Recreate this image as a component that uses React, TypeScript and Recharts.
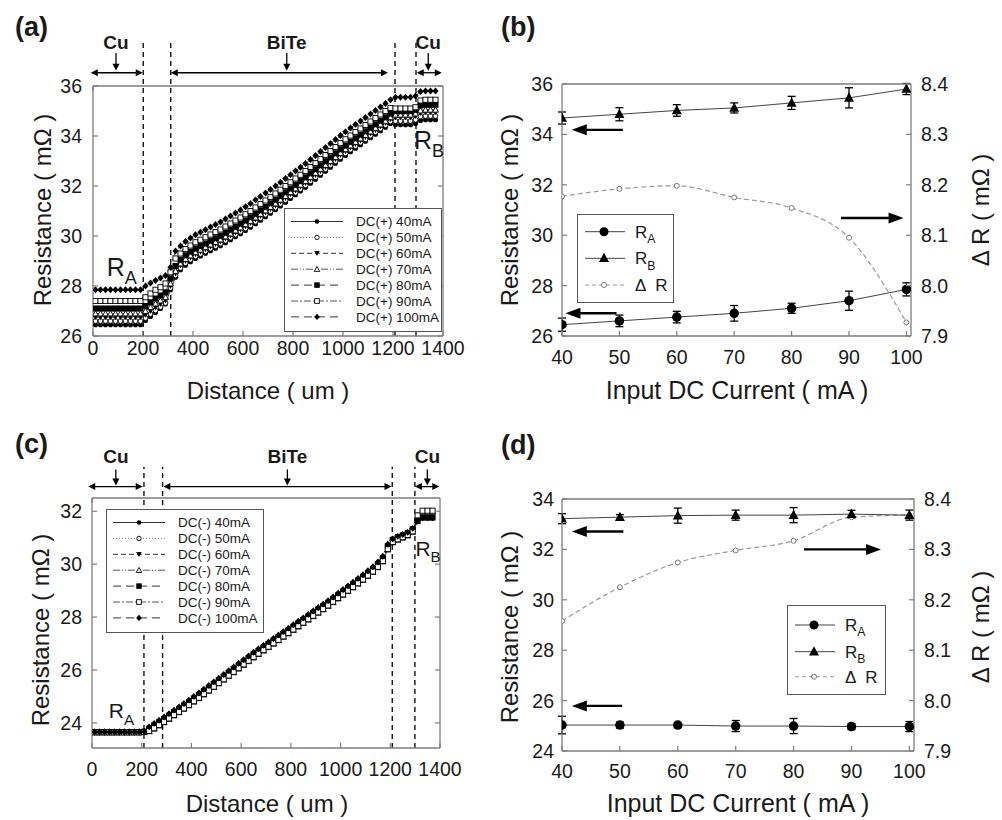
import React from 'react';
import { LineChart, Line, XAxis, YAxis, ReferenceLine, ReferenceDot, Legend, ErrorBar } from 'recharts';

const FONT = '"Liberation Sans", Arial, Helvetica, sans-serif';
const INK = '#1a1a1a';
const FRAME = '#7d7d7d';

// ---------------- data : panels (a) and (c) ----------------
const distance = [
  10, 30, 50, 70, 90, 110, 130, 150, 170, 190,
  210, 230, 250, 270, 290, 310, 330, 350, 370, 390,
  410, 430, 450, 470, 490, 510, 530, 550, 570, 590,
  610, 630, 650, 670, 690, 710, 730, 750, 770, 790,
  810, 830, 850, 870, 890, 910, 930, 950, 970, 990,
  1010, 1030, 1050, 1070, 1090, 1110, 1130, 1150, 1170, 1190,
  1210, 1230, 1250, 1270, 1290, 1310, 1330, 1350, 1370,
];
const currentLabels = ['40mA', '50mA', '60mA', '70mA', '80mA', '90mA', '100mA'];

const pos40 = [
  26.45, 26.45, 26.45, 26.45, 26.45, 26.45, 26.45, 26.45, 26.45, 26.45,
  26.62, 26.78, 26.94, 27.10, 27.28, 27.85, 28.35, 28.65, 28.83, 28.97,
  29.10, 29.20, 29.30, 29.41, 29.51, 29.61, 29.73, 29.85, 29.97, 30.09,
  30.22, 30.35, 30.49, 30.63, 30.77, 30.91, 31.05, 31.20, 31.35, 31.50,
  31.65, 31.80, 31.95, 32.11, 32.27, 32.43, 32.59, 32.75, 32.91, 33.07,
  33.22, 33.37, 33.51, 33.65, 33.79, 33.93, 34.07, 34.21, 34.35, 34.50,
  34.45, 34.45, 34.45, 34.45, 34.50, 34.62, 34.65, 34.65, 34.65,
];
const pos50 = [
  26.60, 26.60, 26.60, 26.60, 26.60, 26.60, 26.60, 26.60, 26.60, 26.60,
  26.72, 26.88, 27.02, 27.16, 27.32, 27.92, 28.42, 28.72, 28.91, 29.05,
  29.18, 29.28, 29.38, 29.49, 29.59, 29.69, 29.81, 29.93, 30.05, 30.17,
  30.30, 30.43, 30.57, 30.71, 30.85, 30.99, 31.13, 31.28, 31.43, 31.58,
  31.73, 31.88, 32.03, 32.19, 32.35, 32.51, 32.67, 32.83, 32.99, 33.15,
  33.30, 33.45, 33.59, 33.73, 33.87, 34.01, 34.15, 34.29, 34.43, 34.58,
  34.60, 34.60, 34.60, 34.60, 34.65, 34.78, 34.80, 34.80, 34.80,
];
const pos60 = [
  26.75, 26.75, 26.75, 26.75, 26.75, 26.75, 26.75, 26.75, 26.75, 26.75,
  26.85, 27.00, 27.15, 27.28, 27.42, 28.00, 28.50, 28.82, 29.00, 29.14,
  29.27, 29.37, 29.47, 29.58, 29.68, 29.78, 29.90, 30.02, 30.14, 30.26,
  30.39, 30.52, 30.66, 30.80, 30.94, 31.08, 31.22, 31.37, 31.52, 31.67,
  31.82, 31.97, 32.12, 32.28, 32.44, 32.60, 32.76, 32.92, 33.08, 33.24,
  33.39, 33.54, 33.68, 33.82, 33.96, 34.10, 34.24, 34.38, 34.52, 34.67,
  34.75, 34.75, 34.75, 34.75, 34.80, 34.92, 34.95, 34.95, 34.95,
];
const pos70 = [
  26.90, 26.90, 26.90, 26.90, 26.90, 26.90, 26.90, 26.90, 26.90, 26.90,
  27.00, 27.15, 27.30, 27.42, 27.55, 28.10, 28.60, 28.90, 29.08, 29.22,
  29.35, 29.45, 29.55, 29.66, 29.76, 29.86, 29.98, 30.10, 30.22, 30.34,
  30.47, 30.60, 30.74, 30.88, 31.02, 31.16, 31.30, 31.45, 31.60, 31.75,
  31.90, 32.05, 32.20, 32.36, 32.52, 32.68, 32.84, 33.00, 33.16, 33.32,
  33.47, 33.62, 33.76, 33.90, 34.04, 34.18, 34.32, 34.46, 34.60, 34.75,
  34.85, 34.85, 34.85, 34.85, 34.90, 35.02, 35.05, 35.05, 35.05,
];
const pos80 = [
  27.10, 27.10, 27.10, 27.10, 27.10, 27.10, 27.10, 27.10, 27.10, 27.10,
  27.20, 27.35, 27.50, 27.62, 27.75, 28.30, 28.80, 29.05, 29.23, 29.37,
  29.50, 29.60, 29.70, 29.81, 29.91, 30.01, 30.13, 30.25, 30.37, 30.49,
  30.62, 30.75, 30.89, 31.03, 31.17, 31.31, 31.45, 31.60, 31.75, 31.90,
  32.05, 32.20, 32.35, 32.51, 32.67, 32.83, 32.99, 33.15, 33.31, 33.47,
  33.62, 33.77, 33.91, 34.05, 34.19, 34.33, 34.47, 34.61, 34.75, 34.90,
  35.00, 35.00, 35.00, 35.00, 35.05, 35.22, 35.25, 35.25, 35.25,
];
const pos90 = [
  27.40, 27.40, 27.40, 27.40, 27.40, 27.40, 27.40, 27.40, 27.40, 27.40,
  27.55, 27.70, 27.85, 27.95, 28.10, 28.55, 29.10, 29.30, 29.48, 29.62,
  29.75, 29.85, 29.95, 30.06, 30.16, 30.26, 30.38, 30.50, 30.62, 30.74,
  30.87, 31.00, 31.14, 31.28, 31.42, 31.56, 31.70, 31.85, 32.00, 32.15,
  32.30, 32.45, 32.60, 32.76, 32.92, 33.08, 33.24, 33.40, 33.56, 33.72,
  33.87, 34.02, 34.16, 34.30, 34.44, 34.58, 34.72, 34.86, 35.00, 35.12,
  35.10, 35.10, 35.10, 35.10, 35.15, 35.42, 35.45, 35.45, 35.45,
];
const pos100 = [
  27.85, 27.85, 27.85, 27.85, 27.85, 27.85, 27.85, 27.85, 27.85, 27.85,
  28.00, 28.12, 28.22, 28.32, 28.42, 28.75, 29.40, 29.60, 29.78, 29.92,
  30.05, 30.15, 30.25, 30.36, 30.46, 30.56, 30.68, 30.80, 30.92, 31.04,
  31.17, 31.30, 31.44, 31.58, 31.72, 31.86, 32.00, 32.15, 32.30, 32.45,
  32.60, 32.75, 32.90, 33.06, 33.22, 33.38, 33.54, 33.70, 33.86, 34.02,
  34.17, 34.32, 34.46, 34.60, 34.74, 34.88, 35.02, 35.16, 35.30, 35.45,
  35.55, 35.55, 35.55, 35.55, 35.60, 35.78, 35.80, 35.80, 35.80,
];

const neg40 = [
  23.63, 23.63, 23.63, 23.63, 23.63, 23.63, 23.63, 23.63, 23.63, 23.63,
  23.64, 23.72, 23.83, 23.95, 24.07, 24.20, 24.33, 24.45, 24.58, 24.71,
  24.85, 24.98, 25.12, 25.26, 25.40, 25.54, 25.68, 25.82, 25.96, 26.10,
  26.24, 26.38, 26.52, 26.65, 26.78, 26.91, 27.04, 27.17, 27.30, 27.43,
  27.56, 27.69, 27.82, 27.95, 28.08, 28.21, 28.34, 28.47, 28.61, 28.75,
  28.89, 29.03, 29.17, 29.31, 29.45, 29.60, 29.75, 29.93, 30.15, 30.60,
  30.85, 30.95, 31.02, 31.10, 31.25, 31.60, 31.75, 31.75, 31.75,
];
const neg50 = [
  23.67, 23.67, 23.67, 23.67, 23.67, 23.67, 23.67, 23.67, 23.67, 23.67,
  23.68, 23.80, 23.93, 24.05, 24.17, 24.30, 24.43, 24.55, 24.68, 24.81,
  24.95, 25.08, 25.22, 25.36, 25.50, 25.64, 25.78, 25.92, 26.06, 26.20,
  26.34, 26.48, 26.62, 26.75, 26.88, 27.01, 27.14, 27.27, 27.40, 27.53,
  27.66, 27.79, 27.92, 28.05, 28.18, 28.31, 28.44, 28.57, 28.71, 28.85,
  28.99, 29.13, 29.27, 29.41, 29.55, 29.70, 29.85, 30.03, 30.25, 30.70,
  30.90, 31.00, 31.07, 31.15, 31.30, 31.85, 32.00, 32.00, 32.00,
];
const neg60 = [
  23.64, 23.64, 23.64, 23.64, 23.64, 23.64, 23.64, 23.64, 23.64, 23.64,
  23.65, 23.75, 23.86, 23.98, 24.10, 24.23, 24.36, 24.48, 24.61, 24.74,
  24.88, 25.01, 25.15, 25.29, 25.43, 25.57, 25.71, 25.85, 25.99, 26.13,
  26.27, 26.41, 26.55, 26.68, 26.81, 26.94, 27.07, 27.20, 27.33, 27.46,
  27.59, 27.72, 27.85, 27.98, 28.11, 28.24, 28.37, 28.50, 28.64, 28.78,
  28.92, 29.06, 29.20, 29.34, 29.48, 29.63, 29.78, 29.96, 30.18, 30.63,
  30.88, 30.98, 31.05, 31.13, 31.28, 31.62, 31.78, 31.78, 31.78,
];
const neg70 = [
  23.66, 23.66, 23.66, 23.66, 23.66, 23.66, 23.66, 23.66, 23.66, 23.66,
  23.66, 23.68, 23.78, 23.90, 24.02, 24.15, 24.28, 24.40, 24.53, 24.66,
  24.80, 24.93, 25.07, 25.21, 25.35, 25.49, 25.63, 25.77, 25.91, 26.05,
  26.19, 26.33, 26.47, 26.60, 26.73, 26.86, 26.99, 27.12, 27.25, 27.38,
  27.51, 27.64, 27.77, 27.90, 28.03, 28.16, 28.29, 28.42, 28.56, 28.70,
  28.84, 28.98, 29.12, 29.26, 29.40, 29.55, 29.70, 29.88, 30.10, 30.55,
  30.82, 30.92, 31.00, 31.08, 31.22, 31.82, 31.98, 31.98, 31.98,
];
const neg80 = [
  23.65, 23.65, 23.65, 23.65, 23.65, 23.65, 23.65, 23.65, 23.65, 23.65,
  23.67, 23.78, 23.90, 24.02, 24.14, 24.27, 24.40, 24.52, 24.65, 24.78,
  24.92, 25.05, 25.19, 25.33, 25.47, 25.61, 25.75, 25.89, 26.03, 26.17,
  26.31, 26.45, 26.59, 26.72, 26.85, 26.98, 27.11, 27.24, 27.37, 27.50,
  27.63, 27.76, 27.89, 28.02, 28.15, 28.28, 28.41, 28.54, 28.68, 28.82,
  28.96, 29.10, 29.24, 29.38, 29.52, 29.67, 29.82, 30.00, 30.22, 30.68,
  30.92, 31.02, 31.09, 31.17, 31.32, 31.63, 31.76, 31.76, 31.76,
];
const neg90 = [
  23.64, 23.64, 23.64, 23.64, 23.64, 23.64, 23.64, 23.64, 23.64, 23.64,
  23.65, 23.70, 23.80, 23.92, 24.04, 24.17, 24.30, 24.42, 24.55, 24.68,
  24.82, 24.95, 25.09, 25.23, 25.37, 25.51, 25.65, 25.79, 25.93, 26.07,
  26.21, 26.35, 26.49, 26.62, 26.75, 26.88, 27.01, 27.14, 27.27, 27.40,
  27.53, 27.66, 27.79, 27.92, 28.05, 28.18, 28.31, 28.44, 28.58, 28.72,
  28.86, 29.00, 29.14, 29.28, 29.42, 29.57, 29.72, 29.90, 30.12, 30.57,
  30.84, 30.94, 31.02, 31.10, 31.24, 31.84, 32.02, 32.02, 32.02,
];
const neg100 = [
  23.65, 23.65, 23.65, 23.65, 23.65, 23.65, 23.65, 23.65, 23.65, 23.65,
  23.66, 23.85, 23.98, 24.10, 24.22, 24.35, 24.48, 24.60, 24.73, 24.86,
  25.00, 25.13, 25.27, 25.41, 25.55, 25.69, 25.83, 25.97, 26.11, 26.25,
  26.39, 26.53, 26.67, 26.80, 26.93, 27.06, 27.19, 27.32, 27.45, 27.58,
  27.71, 27.84, 27.97, 28.10, 28.23, 28.36, 28.49, 28.62, 28.76, 28.90,
  29.04, 29.18, 29.32, 29.46, 29.60, 29.75, 29.90, 30.08, 30.30, 30.75,
  30.95, 31.05, 31.12, 31.20, 31.35, 31.65, 31.75, 31.75, 31.75,
];

// ---------------- data : panels (b) and (d) ----------------
const currents = [40, 50, 60, 70, 80, 90, 100];
const bRA = [26.45, 26.6, 26.75, 26.9, 27.1, 27.4, 27.85];
const bRAerr = [0.26, 0.23, 0.23, 0.31, 0.2, 0.38, 0.26];
const bRB = [34.65, 34.8, 34.95, 35.05, 35.25, 35.45, 35.8];
const bRBerr = [0.24, 0.26, 0.23, 0.2, 0.26, 0.4, 0.22];
const bDR = [8.177, 8.192, 8.198, 8.175, 8.154, 8.095, 7.927];

const dRA = [25.03, 25.03, 25.03, 24.99, 24.99, 24.97, 24.97];
const dRAerr = [0.35, 0.12, 0.1, 0.22, 0.3, 0.12, 0.2];
const dRB = [33.22, 33.28, 33.34, 33.36, 33.36, 33.4, 33.36];
const dRBerr = [0.2, 0.1, 0.3, 0.2, 0.3, 0.15, 0.2];
const dDR = [8.158, 8.225, 8.274, 8.298, 8.317, 8.364, 8.368];

// ---------------- ticks ----------------
const distTicks = [0, 200, 400, 600, 800, 1000, 1200, 1400];
const resTicksA = [26, 28, 30, 32, 34, 36];
const resTicksC = [24, 26, 28, 30, 32];
const currTicks = [40, 50, 60, 70, 80, 90, 100];
const resTicksB = [26, 28, 30, 32, 34, 36];
const resTicksD = [24, 26, 28, 30, 32, 34];
const dRTicks = [7.9, 8.0, 8.1, 8.2, 8.3, 8.4];

// ---------------- assembled tables ----------------
const posSeries = [pos40, pos50, pos60, pos70, pos80, pos90, pos100];
const negSeries = [neg40, neg50, neg60, neg70, neg80, neg90, neg100];
const dataA = distance.map((d, i) => {
  const row: any = { d };
  posSeries.forEach((s, k) => { row['s' + k] = s[i]; });
  return row;
});
const dataC = distance.map((d, i) => {
  const row: any = { d };
  negSeries.forEach((s, k) => { row['s' + k] = s[i]; });
  return row;
});
const dataB = currents.map((c, i) => ({ c, ra: bRA[i], raErr: bRAerr[i], rb: bRB[i], rbErr: bRBerr[i], dr: bDR[i] }));
const dataD = currents.map((c, i) => ({ c, ra: dRA[i], raErr: dRAerr[i], rb: dRB[i], rbErr: dRBerr[i], dr: dDR[i] }));

// ---------------- styles ----------------
const seriesStyle = [
  { dash: undefined as any, mark: 'dot', line: '#333' },
  { dash: '1 2', mark: 'ring', line: '#888' },
  { dash: '5 3', mark: 'tdown', line: '#333' },
  { dash: '7 2 1 2 1 2', mark: 'tup', line: '#555' },
  { dash: '8 5', mark: 'sq', line: '#333' },
  { dash: '7 2 2 2', mark: 'sqo', line: '#555' },
  { dash: '8 5', mark: 'dia', line: '#333' },
];

function Marker({ cx, cy, kind, s = 6 }: any) {
  if (cx == null || cy == null || isNaN(cx) || isNaN(cy)) return <g />;
  const h = s / 2;
  switch (kind) {
    case 'dot':
      return <circle cx={cx} cy={cy} r={h * 0.85} fill="#000" />;
    case 'ring':
      return <circle cx={cx} cy={cy} r={h * 0.8} fill="#fff" stroke="#000" strokeWidth={0.9} />;
    case 'tdown':
      return <polygon points={`${cx - h},${cy - h * 0.8} ${cx + h},${cy - h * 0.8} ${cx},${cy + h}`} fill="#000" />;
    case 'tup':
      return <polygon points={`${cx - h},${cy + h * 0.8} ${cx + h},${cy + h * 0.8} ${cx},${cy - h}`} fill="#fff" stroke="#000" strokeWidth={0.9} />;
    case 'sq':
      return <rect x={cx - h} y={cy - h} width={s} height={s} fill="#000" />;
    case 'sqo':
      return <rect x={cx - h * 0.85} y={cy - h * 0.85} width={s * 0.85} height={s * 0.85} fill="#fff" stroke="#000" strokeWidth={0.9} />;
    case 'dia':
      return <polygon points={`${cx},${cy - h * 1.15} ${cx + h * 1.05},${cy} ${cx},${cy + h * 1.15} ${cx - h * 1.05},${cy}`} fill="#000" />;
    case 'bigdot':
      return <circle cx={cx} cy={cy} r={h} fill="#000" />;
    case 'bigtri':
      return <polygon points={`${cx},${cy - s * 0.55} ${cx + s * 0.5},${cy + s * 0.38} ${cx - s * 0.5},${cy + s * 0.38}`} fill="#000" />;
    case 'gring':
      return <circle cx={cx} cy={cy} r={h} fill="#fff" stroke="#777" strokeWidth={1} />;
    default:
      return <g />;
  }
}

const TICK_FS = 19.5;

const bottomTick = (gap: number) => (p: any) => (
  <g>
    <line x1={p.x} y1={p.y} x2={p.x} y2={p.y - 5} stroke={FRAME} strokeWidth={1.2} />
    <text x={p.x} y={p.y + gap} dy="0.36em" textAnchor="middle" fontSize={TICK_FS} fontFamily={FONT} fill={INK}>
      {p.payload.value}
    </text>
  </g>
);
const topTick = (p: any) => <line x1={p.x} y1={p.y} x2={p.x} y2={p.y + 5} stroke={FRAME} strokeWidth={1.2} />;
const leftTick = (gap: number) => (p: any) => (
  <g>
    <line x1={p.x} y1={p.y} x2={p.x + 5} y2={p.y} stroke={FRAME} strokeWidth={1.2} />
    <text x={p.x - gap} y={p.y} dy="0.36em" textAnchor="end" fontSize={TICK_FS} fontFamily={FONT} fill={INK}>
      {p.payload.value}
    </text>
  </g>
);
const rightTickPlain = (p: any) => <line x1={p.x} y1={p.y} x2={p.x - 5} y2={p.y} stroke={FRAME} strokeWidth={1.2} />;
const rightTickLabel = (gap: number) => (p: any) => (
  <g>
    <line x1={p.x} y1={p.y} x2={p.x - 5} y2={p.y} stroke={FRAME} strokeWidth={1.2} />
    <text x={p.x + gap} y={p.y} dy="0.36em" textAnchor="start" fontSize={TICK_FS} fontFamily={FONT} fill={INK}>
      {Number(p.payload.value).toFixed(1)}
    </text>
  </g>
);

const arrowShape = (mode: 'end' | 'both', len: number, half: number, sw: number) => (p: any) => {
  const { x1, y1, x2, y2 } = p;
  if ([x1, y1, x2, y2].some((v) => v == null || isNaN(v))) return <g />;
  const dx = x2 - x1;
  const dy = y2 - y1;
  const L = Math.hypot(dx, dy) || 1;
  const ux = dx / L;
  const uy = dy / L;
  const head = (tx: number, ty: number, vx: number, vy: number) => {
    const bx = tx - vx * len;
    const by = ty - vy * len;
    return `${tx},${ty} ${bx - vy * half},${by + vx * half} ${bx + vy * half},${by - vx * half}`;
  };
  const sx = mode === 'both' ? x1 + ux * len * 0.7 : x1;
  const sy = mode === 'both' ? y1 + uy * len * 0.7 : y1;
  const ex = x2 - ux * len * 0.7;
  const ey = y2 - uy * len * 0.7;
  return (
    <g>
      <line x1={sx} y1={sy} x2={ex} y2={ey} stroke="#000" strokeWidth={sw} />
      {mode === 'both' && <polygon points={head(x1, y1, -ux, -uy)} fill="#000" />}
      <polygon points={head(x2, y2, ux, uy)} fill="#000" />
    </g>
  );
};

const textShape = (content: React.ReactNode, fs: number, bold: boolean) => (p: any) => (
  <text x={p.cx} y={p.cy} dy="0.36em" textAnchor="middle" fontSize={fs} fontWeight={bold ? 700 : 400} fontFamily={FONT} fill={INK}>
    {content}
  </text>
);
const subLabel = (main: string, sub: string, fs: number) => (
  <>
    {main}
    <tspan fontSize={fs * 0.72} dy={fs * 0.3}>{sub}</tspan>
  </>
);

// ---------------- annotations ----------------
const regionLinesA = [201, 311, 1208, 1292];
const spansA = [[-9, 199], [311, 1180], [1295, 1395]];
const pointersA = [92, 775, 1341];
const tagsA = [{ x: 92, t: 'Cu' }, { x: 775, t: 'BiTe' }, { x: 1341, t: 'Cu' }];

const regionLinesC = [209, 284, 1208, 1299];
const spansC = [[-15, 204], [287, 1205], [1299, 1397]];
const pointersC = [96, 786, 1349];
const tagsC = [{ x: 96, t: 'Cu' }, { x: 786, t: 'BiTe' }, { x: 1349, t: 'Cu' }];

// ---------------- legends ----------------
function DenseLegend({ prefix }: { prefix: string }) {
  return (
    <svg width={158} height={124} style={{ display: 'block' }}>
      <rect x={0.5} y={0.5} width={157} height={123} fill="#fff" stroke="#555" strokeWidth={1} />
      {currentLabels.map((lab, i) => {
        const y = 13.5 + i * 15.9;
        const st = seriesStyle[i];
        return (
          <g key={lab}>
            <line x1={7} y1={y} x2={59} y2={y} stroke={st.line} strokeWidth={1} strokeDasharray={st.dash} />
            <Marker cx={33} cy={y} kind={st.mark} s={5.5} />
            <text x={72} y={y} dy="0.36em" fontSize={13.5} fontFamily={FONT} fill={INK}>
              {prefix + ' ' + lab}
            </text>
          </g>
        );
      })}
    </svg>
  );
}

function TrioLegend({ w, h, rowY }: { w: number; h: number; rowY: number[] }) {
  const fs = 17;
  return (
    <svg width={w} height={h} style={{ display: 'block' }}>
      <rect x={0.5} y={0.5} width={w - 1} height={h - 1} fill="#fff" stroke="#555" strokeWidth={1} />
      <line x1={8} y1={rowY[0]} x2={48} y2={rowY[0]} stroke="#444" strokeWidth={1} />
      <Marker cx={27} cy={rowY[0]} kind="bigdot" s={9} />
      <text x={58} y={rowY[0]} dy="0.36em" fontSize={fs} fontFamily={FONT} fill={INK}>{subLabel('R', 'A', fs)}</text>
      <line x1={8} y1={rowY[1]} x2={48} y2={rowY[1]} stroke="#444" strokeWidth={1} />
      <Marker cx={27} cy={rowY[1]} kind="bigtri" s={10} />
      <text x={58} y={rowY[1]} dy="0.36em" fontSize={fs} fontFamily={FONT} fill={INK}>{subLabel('R', 'B', fs)}</text>
      <line x1={8} y1={rowY[2]} x2={48} y2={rowY[2]} stroke="#999" strokeWidth={1.1} strokeDasharray="4 3" />
      <Marker cx={27} cy={rowY[2]} kind="gring" s={5} />
      <text x={58} y={rowY[2]} dy="0.36em" fontSize={fs} fontFamily={FONT} fill={INK}>
        Δ<tspan dx={9}>R</tspan>
      </text>
    </svg>
  );
}

// ---------------- panels ----------------
function DensePanel({ data, yDomain, yTicks, regions, regionTop, spanY, spans, pointers, pointerFrom, pointerTo, tags, tagY, tagFont,
  ra, rb, rFont, legendPos, prefix, margin, leftW, bottomH, xGap, yGap }: any) {
  return (
    <LineChart width={500} height={410} data={data} margin={margin}>
      <XAxis dataKey="d" type="number" domain={[0, 1400]} ticks={distTicks} allowDataOverflow interval={0}
        height={bottomH} tickSize={0} tickMargin={0} tickLine={false} axisLine={{ stroke: FRAME, strokeWidth: 1.3 }} tick={bottomTick(xGap)} />
      <XAxis xAxisId="top" orientation="top" type="number" domain={[0, 1400]} ticks={distTicks} allowDataOverflow interval={0}
        height={30} tickSize={0} tickMargin={0} tickLine={false} axisLine={{ stroke: FRAME, strokeWidth: 1.3 }} tick={topTick} />
      <YAxis type="number" domain={yDomain} ticks={yTicks} allowDataOverflow interval={0} width={leftW}
        tickSize={0} tickMargin={0} tickLine={false} axisLine={{ stroke: FRAME, strokeWidth: 1.3 }} tick={leftTick(yGap)} />
      <YAxis yAxisId="fr" orientation="right" type="number" domain={yDomain} ticks={yTicks} allowDataOverflow interval={0} width={30}
        tickSize={0} tickMargin={0} tickLine={false} axisLine={{ stroke: FRAME, strokeWidth: 1.3 }} tick={rightTickPlain} />
      {currentLabels.map((lab, k) => {
        const st = seriesStyle[k];
        return (
          <Line key={lab} dataKey={'s' + k} name={lab} type="linear" stroke={st.line} strokeWidth={0.9} strokeDasharray={st.dash}
            isAnimationActive={false}
            dot={(p: any) => <Marker key={`m${k}-${p.index}`} cx={p.cx} cy={p.cy} kind={st.mark} s={6} />} activeDot={false} />
        );
      })}
      {regions.map((x: number) => (
        <ReferenceLine key={'rl' + x} segment={[{ x, y: yDomain[0] }, { x, y: regionTop }]} ifOverflow="visible"
          stroke="#111" strokeWidth={1.4} strokeDasharray="5 4" />
      ))}
      {spans.map((s: number[]) => (
        <ReferenceLine key={'sp' + s[0]} segment={[{ x: s[0], y: spanY }, { x: s[1], y: spanY }]} ifOverflow="visible"
          shape={arrowShape('both', 7, 3.5, 1.3)} />
      ))}
      {pointers.map((x: number) => (
        <ReferenceLine key={'pt' + x} segment={[{ x, y: pointerFrom }, { x, y: pointerTo }]} ifOverflow="visible"
          shape={arrowShape('end', 7, 3.5, 1.3)} />
      ))}
      {tags.map((t: any) => (
        <ReferenceDot key={'tg' + t.x} x={t.x} y={tagY} r={1} ifOverflow="visible" shape={textShape(t.t, tagFont, true)} />
      ))}
      <ReferenceDot x={ra[0]} y={ra[1]} r={1} ifOverflow="visible" shape={textShape(subLabel('R', 'A', rFont), rFont, false)} />
      <ReferenceDot x={rb[0]} y={rb[1]} r={1} ifOverflow="visible" shape={textShape(subLabel('R', 'B', rFont), rFont, false)} />
      <Legend layout="vertical" align="center" verticalAlign="middle"
        wrapperStyle={{ left: legendPos[0], top: legendPos[1], width: 158, height: 124, lineHeight: 0 }}
        content={() => <DenseLegend prefix={prefix} />} />
    </LineChart>
  );
}

function TrioPanel({ data, yDomain, yTicks, margin, rightW, bottomH, xGap, yGap, arrows, legendPos, legendSize, legendRows }: any) {
  return (
    <LineChart width={502} height={410} data={data} margin={margin}>
      <XAxis dataKey="c" type="number" domain={[40, 100.8]} ticks={currTicks} allowDataOverflow interval={0}
        height={bottomH} tickSize={0} tickMargin={0} tickLine={false} axisLine={{ stroke: FRAME, strokeWidth: 1.3 }} tick={bottomTick(xGap)} />
      <XAxis xAxisId="top" orientation="top" type="number" domain={[40, 100.8]} ticks={currTicks} allowDataOverflow interval={0}
        height={30} tickSize={0} tickMargin={0} tickLine={false} axisLine={{ stroke: FRAME, strokeWidth: 1.3 }} tick={topTick} />
      <YAxis yAxisId="L" type="number" domain={yDomain} ticks={yTicks} allowDataOverflow interval={0} width={62}
        tickSize={0} tickMargin={0} tickLine={false} axisLine={{ stroke: FRAME, strokeWidth: 1.3 }} tick={leftTick(yGap)} />
      <YAxis yAxisId="R" orientation="right" type="number" domain={[7.9, 8.4]} ticks={dRTicks} allowDataOverflow interval={0} width={rightW}
        tickSize={0} tickMargin={0} tickLine={false} axisLine={{ stroke: FRAME, strokeWidth: 1.3 }} tick={rightTickLabel(10)} />
      <Line yAxisId="R" dataKey="dr" name="ΔR" type="monotone" stroke="#999" strokeWidth={1.2} strokeDasharray="5 3"
        isAnimationActive={false} activeDot={false}
        dot={(p: any) => <Marker key={`dr${p.index}`} cx={p.cx} cy={p.cy} kind="gring" s={5} />} />
      <Line yAxisId="L" dataKey="rb" name="RB" type="linear" stroke="#444" strokeWidth={1} isAnimationActive={false} activeDot={false}
        dot={(p: any) => <Marker key={`rb${p.index}`} cx={p.cx} cy={p.cy} kind="bigtri" s={10} />}>
        <ErrorBar dataKey="rbErr" width={4} stroke="#000" strokeWidth={1.3} direction="y" isAnimationActive={false} />
      </Line>
      <Line yAxisId="L" dataKey="ra" name="RA" type="linear" stroke="#444" strokeWidth={1} isAnimationActive={false} activeDot={false}
        dot={(p: any) => <Marker key={`ra${p.index}`} cx={p.cx} cy={p.cy} kind="bigdot" s={9.5} />}>
        <ErrorBar dataKey="raErr" width={4} stroke="#000" strokeWidth={1.3} direction="y" isAnimationActive={false} />
      </Line>
      {arrows.map((a: any, i: number) => (
        <ReferenceLine key={'ar' + i} yAxisId={a.axis} segment={[{ x: a.from, y: a.y }, { x: a.to, y: a.y }]} ifOverflow="visible"
          shape={arrowShape('end', 15, 5.5, 2.4)} />
      ))}
      <Legend layout="vertical" align="center" verticalAlign="middle"
        wrapperStyle={{ left: legendPos[0], top: legendPos[1], width: legendSize[0], height: legendSize[1], lineHeight: 0 }}
        content={() => <TrioLegend w={legendSize[0]} h={legendSize[1]} rowY={legendRows} />} />
    </LineChart>
  );
}

const arrowsB = [
  { axis: 'L', y: 34.18, from: 50.6, to: 41.7 },
  { axis: 'L', y: 26.9, from: 49.5, to: 40.6 },
  { axis: 'R', y: 8.134, from: 88.6, to: 99.5 },
];
const arrowsD = [
  { axis: 'L', y: 32.71, from: 50.6, to: 41.7 },
  { axis: 'L', y: 25.79, from: 50.4, to: 41.7 },
  { axis: 'R', y: 8.3, from: 81.8, to: 95.1 },
];

function Title({ x, y, text, fs, rotate, bold }: any) {
  return (
    <text x={x} y={y} dy="0.36em" textAnchor="middle" fontSize={fs} fontWeight={bold ? 700 : 400} fontFamily={FONT} fill={INK}
      transform={rotate ? `rotate(-90 ${x} ${y})` : undefined}>
      {text}
    </text>
  );
}

export default function App() {
  return (
    <div style={{ position: 'absolute', left: 0, top: 0, width: 1002, height: 820, background: '#fff', overflow: 'hidden' }}>
      <div style={{ position: 'absolute', left: 0, top: 0 }}>
        <DensePanel data={dataA} yDomain={[26, 36]} yTicks={resTicksA} regions={regionLinesA} regionTop={37.84}
          spanY={36.53} spans={spansA} pointers={pointersA} pointerFrom={37.32} pointerTo={36.61} tags={tagsA} tagY={37.76} tagFont={19}
          ra={[115, 28.76]} rb={[1344, 33.84]} rFont={25} legendPos={[284, 208]} prefix="DC(+)"
          margin={{ top: 56, right: 27, bottom: 0, left: 0 }} leftW={93} bottomH={74} xGap={12} yGap={11} />
      </div>
      <div style={{ position: 'absolute', left: 500, top: 0 }}>
        <TrioPanel data={dataB} yDomain={[26, 36]} yTicks={resTicksB} margin={{ top: 54, right: 0, bottom: 0, left: 0 }}
          rightW={91} bottomH={74} xGap={21} yGap={9} arrows={arrowsB} legendPos={[77, 214]} legendSize={[97, 89]} legendRows={[17.7, 44.3, 71]} />
      </div>
      <div style={{ position: 'absolute', left: 0, top: 410 }}>
        <DensePanel data={dataC} yDomain={[23.05, 32.5]} yTicks={resTicksC} regions={regionLinesC} regionTop={33.68}
          spanY={32.93} spans={spansC} pointers={pointersC} pointerFrom={33.58} pointerTo={32.97} tags={tagsC} tagY={34.09} tagFont={19}
          ra={[118, 24.46]} rb={[1352, 30.59]} rFont={21} legendPos={[106, 99]} prefix="DC(-)"
          margin={{ top: 58, right: 30, bottom: 0, left: 0 }} leftW={92} bottomH={72} xGap={21} yGap={10} />
      </div>
      <div style={{ position: 'absolute', left: 500, top: 410 }}>
        <TrioPanel data={dataD} yDomain={[24, 34]} yTicks={resTicksD} margin={{ top: 59, right: 0, bottom: 0, left: 0 }}
          rightW={88} bottomH={69} xGap={20} yGap={8} arrows={arrowsD} legendPos={[287, 195]} legendSize={[99, 90]} legendRows={[20, 46.7, 71.7]} />
      </div>
      <svg width={1002} height={820} style={{ position: 'absolute', left: 0, top: 0, pointerEvents: 'none' }}>
        <text x={15} y={36} fontSize={27} fontWeight={700} fontFamily={FONT} fill={INK}>(a)</text>
        <text x={501} y={36} fontSize={27} fontWeight={700} fontFamily={FONT} fill={INK}>(b)</text>
        <text x={15} y={453} fontSize={27} fontWeight={700} fontFamily={FONT} fill={INK}>(c)</text>
        <text x={501} y={454} fontSize={27} fontWeight={700} fontFamily={FONT} fill={INK}>(d)</text>
        <Title x={268} y={390} text="Distance ( um )" fs={24} />
        <Title x={42} y={210} text="Resistance ( mΩ )" fs={24} rotate />
        <Title x={737} y={390} text="Input DC Current ( mA )" fs={25} />
        <Title x={509} y={210} text="Resistance ( mΩ )" fs={24} rotate />
        <Title x={980} y={210} text="Δ R ( mΩ )" fs={24} rotate />
        <Title x={267} y={803} text="Distance ( um )" fs={24} />
        <Title x={40} y={630} text="Resistance ( mΩ )" fs={24} rotate />
        <Title x={738} y={803} text="Input DC Current ( mA )" fs={25} />
        <Title x={509} y={627} text="Resistance ( mΩ )" fs={24} rotate />
        <Title x={980} y={627} text="Δ R ( mΩ )" fs={24} rotate />
      </svg>
    </div>
  );
}
